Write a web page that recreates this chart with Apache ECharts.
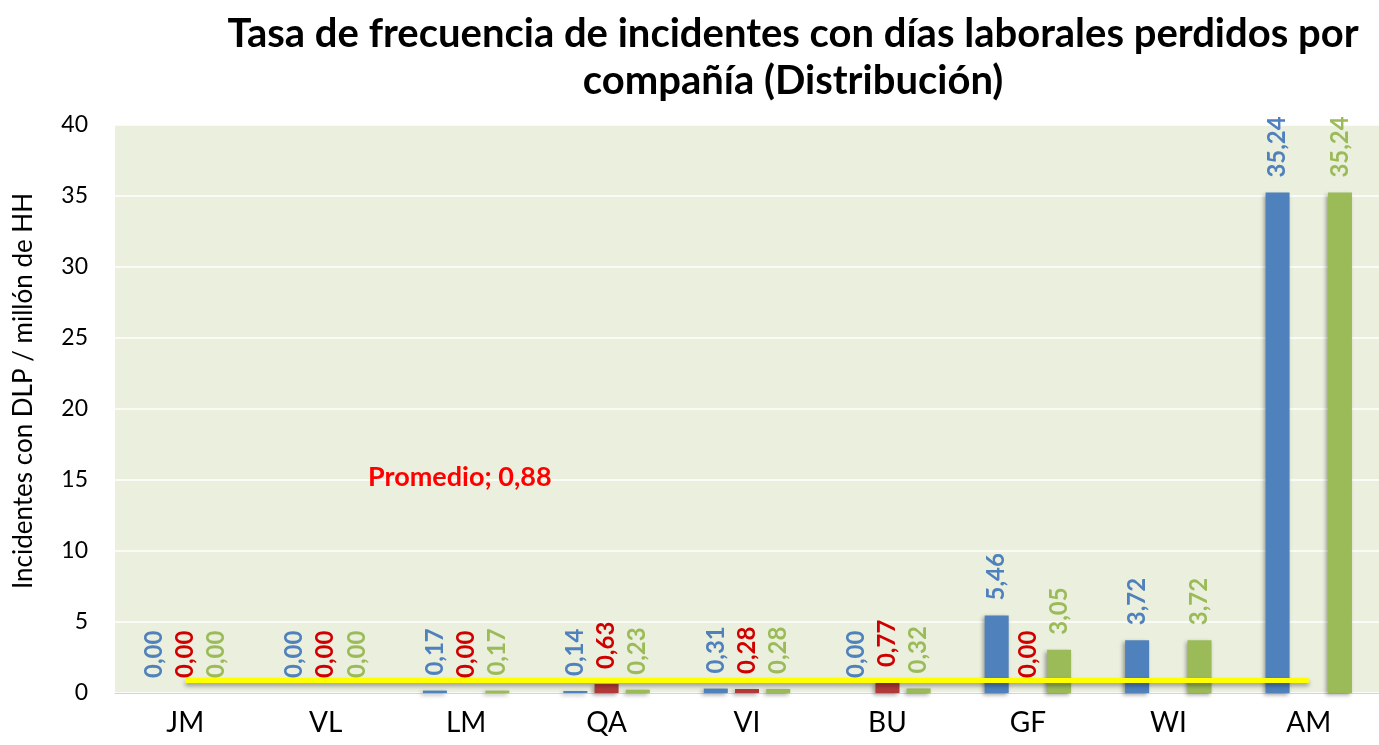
<!DOCTYPE html>
<html>
<head>
<meta charset="utf-8">
<script src="https://cdn.jsdelivr.net/npm/echarts@6/dist/echarts.min.js"></script>
<style>
  html, body { margin: 0; padding: 0; background: #ffffff; }
  #chart { width: 1379px; height: 745px; }
</style>
</head>
<body>
<div id="chart"></div>
<script>
// Companies on the category axis
const companies = ['JM', 'VL', 'LM', 'QA', 'VI', 'BU', 'GF', 'WI', 'AM'];

// Lost-day incident frequency rate per company (three series)
const serieAzul  = [0, 0, 0.17, 0.14, 0.31, 0, 5.46, 3.72, 35.24];
const serieRoja  = [0, 0, 0, 0.63, 0.28, 0.77, 0, null, null];
const serieVerde = [0, 0, 0.17, 0.23, 0.28, 0.32, 3.05, 3.72, 35.24];

// Overall average
const promedio = 0.88;

// Value axis ticks
const yMin = 0, yMax = 40, yStep = 5;

const FONT = 'Lato, "Open Sans", sans-serif';
const fmt = v => v.toFixed(2).replace('.', ',');

function barSeries(name, data, barColor, labelColor) {
  return {
    name: name,
    type: 'bar',
    data: data,
    barWidth: 24,
    barGap: '30%',
    itemStyle: {
      color: barColor,
      shadowColor: 'rgba(0,0,0,0.35)',
      shadowBlur: 4,
      shadowOffsetX: -2,
      shadowOffsetY: 2
    },
    label: {
      show: true,
      position: 'top',
      rotate: 90,
      align: 'left',
      verticalAlign: 'middle',
      distance: 15,
      color: labelColor,
      fontFamily: FONT,
      fontWeight: 'bold',
      fontSize: 24,
      formatter: p => fmt(p.value)
    },
    z: 2
  };
}

const chart = echarts.init(document.getElementById('chart'), null, { renderer: 'canvas' });

chart.setOption({
  animation: false,
  backgroundColor: '#ffffff',
  title: {
    text: 'Tasa de frecuencia de incidentes con días laborales perdidos por\ncompañía (Distribución)',
    left: 788,
    top: 6,
    textAlign: 'center',
    textStyle: {
      fontFamily: FONT,
      fontWeight: 'bold',
      fontSize: 40,
      lineHeight: 47,
      color: '#000000'
    }
  },
  grid: {
    left: 115,
    right: -12,
    top: 125,
    bottom: 52,
    show: true,
    backgroundColor: '#EBEFDE',
    borderWidth: 0
  },
  xAxis: {
    type: 'category',
    data: companies,
    axisTick: { show: false },
    axisLine: { show: true, lineStyle: { color: '#D4D4D4', width: 1 } },
    axisLabel: {
      color: '#000000',
      fontFamily: FONT,
      fontSize: 28,
      margin: 16
    }
  },
  yAxis: {
    type: 'value',
    min: yMin,
    max: yMax,
    interval: yStep,
    name: 'Incidentes con DLP / millón de HH',
    nameLocation: 'middle',
    nameGap: 78,
    nameTextStyle: {
      color: '#000000',
      fontFamily: FONT,
      fontSize: 26,
      padding: [0, 0, 0, 36]
    },
    axisLine: { show: false },
    axisTick: { show: false },
    axisLabel: {
      color: '#000000',
      fontFamily: FONT,
      fontSize: 23,
      margin: 27
    },
    splitLine: { show: true, lineStyle: { color: '#ffffff', width: 1.5 } }
  },
  series: [
    barSeries('Serie 1', serieAzul, '#4F81BD', '#4F81BD'),
    barSeries('Serie 2', serieRoja, '#B03A3A', '#D00000'),
    barSeries('Serie 3', serieVerde, '#9BBB59', '#9BBB59'),
    {
      name: 'Promedio',
      type: 'line',
      data: companies.map(() => promedio),
      symbol: 'none',
      lineStyle: {
        color: '#FFFF00',
        width: 5,
        shadowColor: 'rgba(0,0,0,0.35)',
        shadowBlur: 4,
        shadowOffsetY: 3
      },
      z: 5
    }
  ],
  graphic: [
    {
      type: 'text',
      left: 368,
      top: 464,
      style: {
        text: 'Promedio; ' + fmt(promedio),
        fill: '#FF0000',
        font: 'bold 27px ' + FONT
      },
      z: 10
    }
  ]
});
</script>
</body>
</html>
